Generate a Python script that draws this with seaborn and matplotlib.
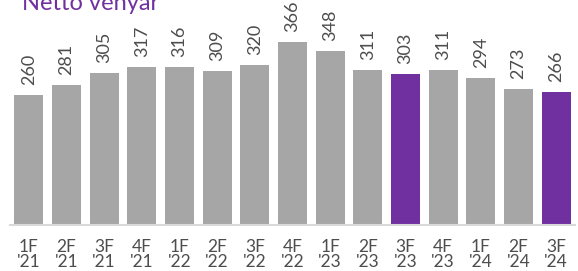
import matplotlib
matplotlib.use("Agg")
import matplotlib.pyplot as plt
import seaborn as sns
import pandas as pd

categories = ["1F\n'21", "2F\n'21", "3F\n'21", "4F\n'21", "1F\n'22", "2F\n'22", "3F\n'22", "4F\n'22",
              "1F\n'23", "2F\n'23", "3F\n'23", "4F\n'23", "1F\n'24", "2F\n'24", "3F\n'24"]
values = [260, 281, 305, 317, 316, 309, 320, 366, 348, 311, 303, 311, 294, 273, 266]
highlight = [False, False, False, False, False, False, False, False, False, False, True, False, False, False, True]
title = "Nettó vényár"

GRAY = "#a6a6a6"
PURPLE = "#7030a0"
TEXT = "#4d4d4d"

sns.set_theme(style="white")
plt.rcParams["font.family"] = ["Lato", "DejaVu Sans"]

df = pd.DataFrame({"cat": categories, "val": values,
                   "grp": ["h" if h else "n" for h in highlight]})

fig = plt.figure(figsize=(5.78, 2.71), dpi=100)
ax = fig.add_axes([10/578, 46/271, 565/578, 225/271])
sns.barplot(data=df, x="cat", y="val", hue="grp", palette={"n": GRAY, "h": PURPLE},
            dodge=False, width=0.77, legend=False, ax=ax, saturation=1)
for p in ax.patches:
    p.set_edgecolor("none")

for i, v in enumerate(values):
    ax.annotate(str(v), (i, v), xytext=(0, 7), textcoords="offset points",
                rotation=90, ha="center", va="bottom", fontsize=13, color=TEXT)

ax.set_xlim(-0.5, len(values) - 0.5)
ax.set_ylim(0, 450)
ax.set_xlabel("")
ax.set_ylabel("")
ax.set_yticks([])
for s in ["top", "right", "left"]:
    ax.spines[s].set_visible(False)
ax.spines["bottom"].set_color("#d9d9d9")
ax.spines["bottom"].set_linewidth(1.5)
ax.tick_params(axis="x", length=0, pad=10, labelsize=12.5, labelcolor=TEXT)
for t in ax.get_xticklabels():
    t.set_linespacing(0.92)

fig.text(22/578, 1 - 10/271, title, color=PURPLE, fontsize=17, va="baseline", ha="left")

fig.savefig("out.png", dpi=100)
